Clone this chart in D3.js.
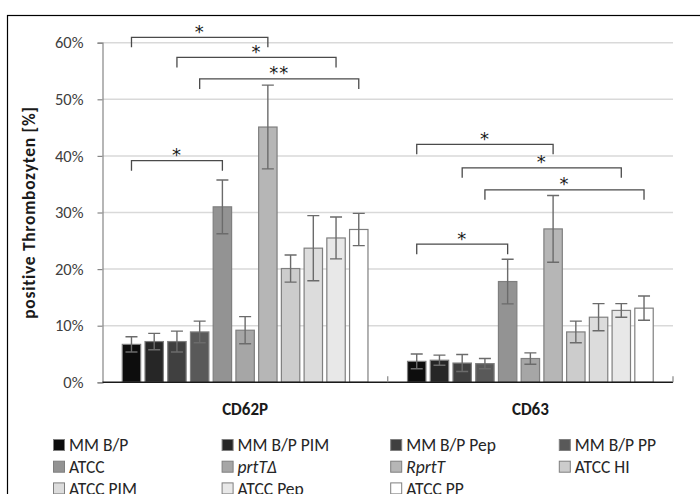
<!DOCTYPE html>
<html>
<head>
<meta charset="utf-8">
<script src="https://cdn.jsdelivr.net/npm/d3@7"></script>
<style>
  body { margin: 0; background: #fff; }
  svg { display: block; font-family: Calibri, Carlito, Lato, sans-serif; }
</style>
</head>
<body>
<svg id="chart" width="700" height="494"></svg>
<script>
// data
const categories = ['CD62P', 'CD63']
const series = ['MM B/P', 'MM B/P PIM', 'MM B/P Pep', 'MM B/P PP', 'ATCC', 'prtTΔ', 'RprtT', 'ATCC HI', 'ATCC PIM', 'ATCC Pep', 'ATCC PP']
const italicSeries = ['prtTΔ', 'RprtT']
const cd62pMeans = [6.7, 7.2, 7.2, 8.9, 31.0, 9.2, 45.1, 20.1, 23.7, 25.5, 27.0]
const cd62pErrors = [1.35, 1.45, 1.85, 1.9, 4.75, 2.4, 7.4, 2.4, 5.75, 3.7, 2.85]
const cd63Means = [3.7, 3.9, 3.4, 3.3, 17.8, 4.2, 27.1, 8.9, 11.5, 12.7, 13.1]
const cd63Errors = [1.3, 0.9, 1.5, 0.9, 3.95, 1.0, 5.9, 1.9, 2.4, 1.2, 2.15]
const yTicks = [0, 10, 20, 30, 40, 50, 60]
const bracketCats = ['CD62P', 'CD62P', 'CD62P', 'CD62P', 'CD63', 'CD63', 'CD63', 'CD63']
const bracketFrom = ['MM B/P', 'MM B/P Pep', 'MM B/P PP', 'MM B/P', 'MM B/P', 'MM B/P Pep', 'MM B/P PP', 'MM B/P']
const bracketTo = ['RprtT', 'ATCC Pep', 'ATCC PP', 'ATCC', 'RprtT', 'ATCC Pep', 'ATCC PP', 'ATCC']
const bracketLevels = [60.95, 57.4, 53.6, 39.15, 42.05, 37.9, 34.0, 24.4]
const bracketLabels = ['*', '*', '**', '*', '*', '*', '*', '*']

const palette = ['#0d0d0d', '#262626', '#404040', '#595959', '#939393', '#a6a6a6', '#b6b6b6', '#cccccc', '#dcdcdc', '#e8e8e8', '#ffffff']

const svg = d3.select('#chart')

// outer frame
svg.append('rect')
    .attr('x', 7.5).attr('y', 15.5)
    .attr('width', 720).attr('height', 520)
    .attr('fill', 'none').attr('stroke', '#000').attr('stroke-width', 1.2)

const plot = { left: 102.5, right: 673, top: 42.7, bottom: 382.3 }

let y = d3.scaleLinear().domain([0, 60]).range([plot.bottom, plot.top])
let x0 = d3.scaleBand().domain(categories).range([plot.left, plot.right])
let x1 = d3.scaleBand().domain(series).range([0, x0.bandwidth()])
    .paddingInner(0.19).paddingOuter(0.87)
let color = d3.scaleOrdinal().domain(series).range(palette)

// gridlines
svg.append('g')
  .selectAll('line')
  .data(yTicks.filter(d => d > 0))
  .enter().append('line')
    .attr('x1', plot.left).attr('x2', plot.right)
    .attr('y1', d => y(d)).attr('y2', d => y(d))
    .attr('stroke', '#d9d9d9').attr('stroke-width', 1.5)

// y axis
let yAxis = svg.append('g')
    .attr('transform', 'translate(' + plot.left + ',0)')
    .call(d3.axisLeft(y).tickValues(yTicks).tickFormat(d => d + '%').tickSize(5).tickPadding(14))
yAxis.select('.domain').attr('stroke', '#868686').attr('stroke-width', 1.2)
yAxis.selectAll('.tick line').attr('stroke', '#868686').attr('stroke-width', 1.2)
yAxis.selectAll('.tick text')
    .attr('fill', '#404040')
    .style('font-size', '16.5px')
    .style('font-family', 'Calibri, Carlito, Lato, sans-serif')

svg.append('text')
    .attr('transform', 'translate(29,' + (plot.top + plot.bottom) / 2 + ') rotate(-90)')
    .attr('text-anchor', 'middle')
    .attr('dy', '0.35em')
    .style('font-size', '17.5px')
    .style('font-weight', 'bold')
    .style('letter-spacing', '0.7px')
    .attr('fill', '#1a1a1a')
    .text('positive Thrombozyten [%]')

// bars
const groups = [
  { cat: 'CD62P', means: cd62pMeans, errors: cd62pErrors },
  { cat: 'CD63', means: cd63Means, errors: cd63Errors }
]

let cat = svg.append('g')
  .selectAll('g')
  .data(groups)
  .enter().append('g')
    .attr('transform', d => 'translate(' + x0(d.cat) + ',0)')

let bars = cat.selectAll('g')
  .data(d => series.map((s, i) => ({ s: s, v: d.means[i], e: d.errors[i] })))
  .enter().append('g')

bars.append('rect')
    .attr('x', d => x1(d.s))
    .attr('width', x1.bandwidth())
    .attr('y', d => y(d.v))
    .attr('height', d => y(0) - y(d.v))
    .attr('fill', d => color(d.s))
    .attr('stroke', '#7f7f7f')
    .attr('stroke-width', 1.2)

let cap = 6
bars.append('path')
    .attr('d', d => {
      let cx = x1(d.s) + x1.bandwidth() / 2
      let hi = y(d.v + d.e), lo = y(d.v - d.e)
      return 'M' + cx + ',' + hi + 'V' + lo +
        'M' + (cx - cap) + ',' + hi + 'H' + (cx + cap) +
        'M' + (cx - cap) + ',' + lo + 'H' + (cx + cap)
    })
    .attr('fill', 'none')
    .attr('stroke', '#6b6b6b')
    .attr('stroke-width', 1.4)

// x axis
svg.append('line')
    .attr('x1', plot.left).attr('x2', plot.right)
    .attr('y1', plot.bottom).attr('y2', plot.bottom)
    .attr('stroke', '#1a1a1a').attr('stroke-width', 1.4)

svg.append('g')
  .selectAll('line')
  .data(categories.slice(1).map(c => x0(c)).concat([plot.right]))
  .enter().append('line')
    .attr('x1', d => d).attr('x2', d => d)
    .attr('y1', plot.bottom).attr('y2', plot.bottom - 6)
    .attr('stroke', '#868686').attr('stroke-width', 1.2)

svg.append('g')
  .selectAll('text')
  .data(categories)
  .enter().append('text')
    .attr('x', d => x0(d) + x0.bandwidth() / 2)
    .attr('y', 409)
    .attr('dy', '0.35em')
    .attr('text-anchor', 'middle')
    .style('font-size', '17px')
    .style('font-weight', 'bold')
    .attr('fill', '#1a1a1a')
    .text(d => d)

// significance brackets
let leg = 10
let bracket = svg.append('g')
  .selectAll('g')
  .data(bracketLevels.map((lv, i) => ({
    cat: bracketCats[i], from: bracketFrom[i], to: bracketTo[i], level: lv, label: bracketLabels[i]
  })))
  .enter().append('g')

bracket.append('path')
    .attr('d', d => {
      let xa = x0(d.cat) + x1(d.from) + x1.bandwidth() / 2
      let xb = x0(d.cat) + x1(d.to) + x1.bandwidth() / 2
      let yl = y(d.level)
      return 'M' + xa + ',' + (yl + leg) + 'V' + yl + 'H' + xb + 'V' + (yl + leg)
    })
    .attr('fill', 'none')
    .attr('stroke', '#4a4a4a')
    .attr('stroke-width', 1.3)

bracket.append('text')
    .attr('x', d => (x0(d.cat) + x1(d.from) + x0(d.cat) + x1(d.to)) / 2 + x1.bandwidth() / 2)
    .attr('y', d => y(d.level) + 0.5)
    .attr('text-anchor', 'middle')
    .style('font-size', '18px')
    .style('font-family', '"DejaVu Sans", sans-serif')
    .style('letter-spacing', '1px')
    .attr('fill', '#1a1a1a')
    .text(d => d.label)

// legend
let colStep = 168.6, rowStep = 21.7
let legend = svg.append('g')
  .selectAll('g')
  .data(series)
  .enter().append('g')
    .attr('transform', (d, i) => 'translate(' + (53.5 + (i % 4) * colStep) + ',' + (445 + Math.floor(i / 4) * rowStep) + ')')

legend.append('rect')
    .attr('x', 0).attr('y', -5.5)
    .attr('width', 11).attr('height', 11)
    .attr('fill', d => color(d))
    .attr('stroke', '#7f7f7f')
    .attr('stroke-width', 1)

legend.append('text')
    .attr('x', 15.5)
    .attr('dy', '0.36em')
    .style('font-size', '17.5px')
    .style('font-style', d => italicSeries.includes(d) ? 'italic' : 'normal')
    .attr('fill', '#262626')
    .text(d => d)
</script>
</body>
</html>
